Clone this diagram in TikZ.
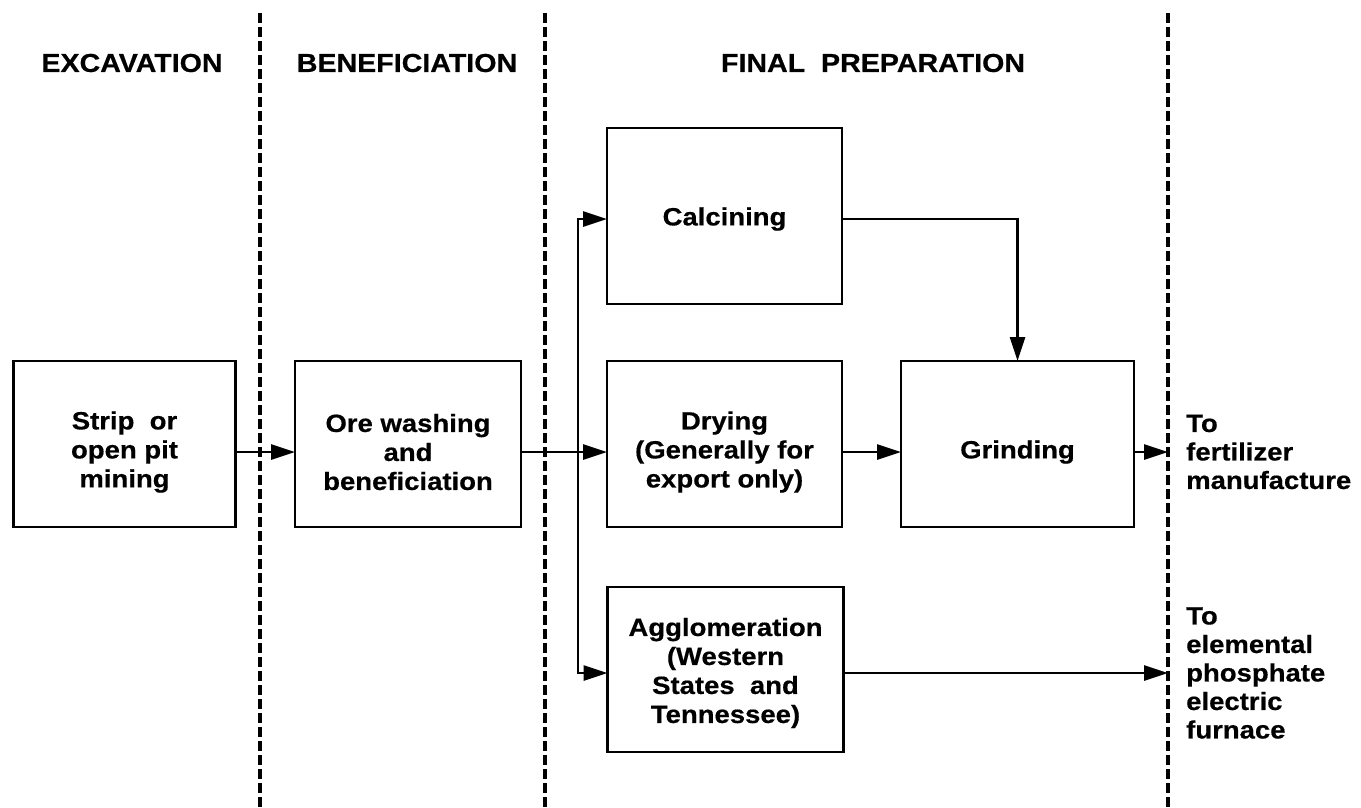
\documentclass[tikz,border=0pt]{standalone}
\usepackage{fontspec}
\setmainfont{Liberation Sans}[FakeStretch=1.1, BoldFeatures={FakeBold=0.5}]
\usetikzlibrary{arrows.meta}
\begin{document}
\begin{tikzpicture}[x=1pt,y=-1pt,
  box/.style={draw, line width=2.5pt, inner sep=0pt, outer sep=0pt},
  txt/.style={align=center, inner sep=0pt, font=\bfseries\fontsize{25}{29}\selectfont},
  rtxt/.style={align=left, anchor=west, inner sep=0pt, font=\bfseries\fontsize{25}{28.5}\selectfont},
  head/.style={inner sep=0pt, font=\bfseries\fontsize{26}{30}\selectfont},
  divider/.style={line width=3.5pt, dash pattern=on 10pt off 4pt},
  arr/.style={line width=2.8pt, -{Triangle[length=24pt,width=15pt]}},
  conn/.style={line width=2.8pt}]
\useasboundingbox (0,0) rectangle (1361,807);
% dividers
\coordinate (d1t) at (260,13); \coordinate (d1b) at (260,807);
\coordinate (d2t) at (545,13); \coordinate (d2b) at (545,807);
\coordinate (d3t) at (1168,13); \coordinate (d3b) at (1168,807);
\draw[divider] (d1t) -- (d1b);
\draw[divider] (d2t) -- (d2b);
\draw[divider] (d3t) -- (d3b);
% headers
\node[head] (h1) at (132,63) {EXCAVATION};
\node[head] (h2) at (407,63) {BENEFICIATION};
\node[head] (h3) at (873,63) {FINAL\ \ PREPARATION};
% boxes
\node[box, minimum width=222pt, minimum height=166pt] (strip) at (124.5,444) {};
\node[box, minimum width=226pt, minimum height=166pt] (ore) at (408,444) {};
\node[box, minimum width=235pt, minimum height=176pt] (calc) at (724.5,216) {};
\node[box, minimum width=235pt, minimum height=166pt] (dry) at (724.5,444) {};
\node[box, minimum width=233pt, minimum height=166pt] (grind) at (1017.5,444) {};
\node[box, minimum width=236pt, minimum height=165pt] (agg) at (725.5,669.5) {};
% texts
\node[txt] (stripT) at (124.5,452) {Strip\ \ or\\open pit\\mining};
\node[txt] (oreT) at (408,452) {Ore washing\\and\\beneficiation};
\node[txt] (calcT) at (724.5,219) {Calcining};
\node[txt] (dryT) at (724.5,452) {Drying\\(Generally for\\export only)};
\node[txt] (grindT) at (1017.5,452) {Grinding};
\node[txt] (aggT) at (725.5,673) {Agglomeration\\(Western\\States\ \ and\\Tennessee)};
\node[rtxt] (o1) at (1186,452) {To\\fertilizer\\manufacture};
\node[rtxt] (o2) at (1186,673) {To\\elemental\\phosphate\\electric\\furnace};
% connectors
\coordinate (jct) at (578,452);
\coordinate (out1) at (1168,452);
\coordinate (out2) at (1168,673);
\draw[arr] (strip.east |- stripT) -- (ore.west |- stripT);
\draw[arr] (ore.east |- oreT) -- (dry.west |- dryT);
\draw[arr] (jct) |- (calc.west |- calcT);
\draw[arr] (jct) |- (agg.west |- aggT);
\draw[arr] (dry.east |- dryT) -- (grind.west |- grindT);
\draw[arr] (calc.east |- calcT) -| (grind.north);
\draw[arr] (grind.east |- grindT) -- (out1);
\draw[arr] (agg.east |- aggT) -- (out2);
\end{tikzpicture}
\end{document}
